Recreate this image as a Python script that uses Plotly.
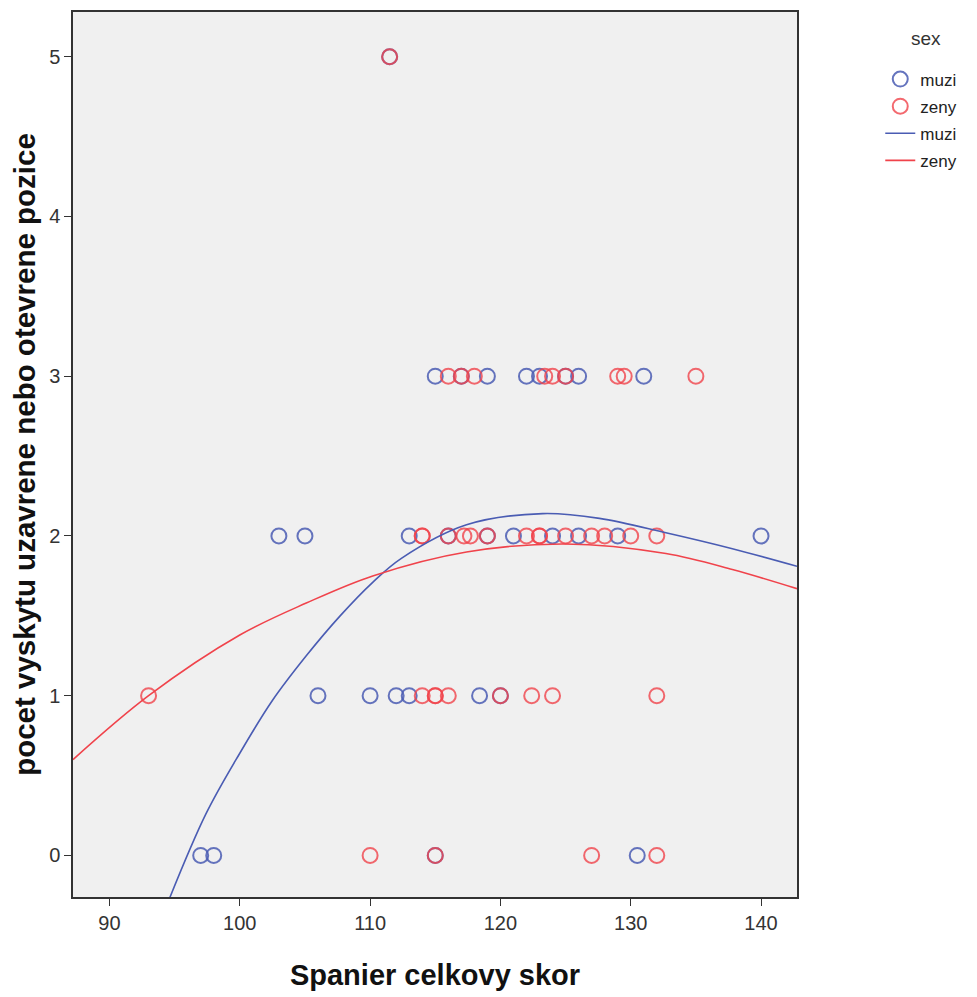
import plotly.graph_objects as go

# ---- data ----
muzi_x = [115, 117, 119, 122, 123, 125, 126, 131,
          103, 105, 113, 116, 119, 121, 124, 126, 129, 140,
          106, 110, 112, 113, 118.4, 120,
          97, 98, 115, 130.5,
          111.5]
muzi_y = [3, 3, 3, 3, 3, 3, 3, 3,
          2, 2, 2, 2, 2, 2, 2, 2, 2, 2,
          1, 1, 1, 1, 1, 1,
          0, 0, 0, 0,
          5]

zeny_x = [116, 117, 118, 123.4, 124, 125, 129, 129.5, 135,
          114, 114, 116, 117.2, 117.7, 119, 122, 123, 123, 125, 127, 128, 130, 132,
          114, 115, 115, 116, 120, 122.4, 124, 132,
          93,
          110, 115, 127, 132,
          111.5]
zeny_y = [3, 3, 3, 3, 3, 3, 3, 3, 3,
          2, 2, 2, 2, 2, 2, 2, 2, 2, 2, 2, 2, 2, 2,
          1, 1, 1, 1, 1, 1, 1, 1,
          1,
          0, 0, 0, 0,
          5]

# fitted curves
muzi_fit_x = [94.6, 97.4, 100, 102.5, 105.1, 107.7, 110.2, 112.4, 117.4, 123.25, 127.6, 132.7, 137.8, 142.76]
muzi_fit_y = [-0.27, 0.26, 0.64, 0.97, 1.25, 1.50, 1.71, 1.86, 2.07, 2.14, 2.11, 2.02, 1.92, 1.81]
zeny_fit_x = [87.2, 93, 100, 105.1, 110.2, 117.4, 125, 132.7, 137.8, 142.76]
zeny_fit_y = [0.60, 1.0, 1.38, 1.58, 1.75, 1.90, 1.95, 1.89, 1.79, 1.67]

x_ticks = [90, 100, 110, 120, 130, 140]
y_ticks = [0, 1, 2, 3, 4, 5]

BLUE = "#4a5cb3"
RED = "#f0434b"
FONT = "Liberation Sans, Arial, sans-serif"

fig = go.Figure()
fig.add_trace(go.Scatter(x=muzi_x, y=muzi_y, mode="markers", name="muzi", legendgroup="a",
                         marker=dict(symbol="circle-open", size=15, color=BLUE,
                                     line=dict(width=2, color=BLUE), opacity=0.85)))
fig.add_trace(go.Scatter(x=zeny_x, y=zeny_y, mode="markers", name="zeny", legendgroup="b",
                         marker=dict(symbol="circle-open", size=15, color=RED,
                                     line=dict(width=2, color=RED), opacity=0.8)))
fig.add_trace(go.Scatter(x=muzi_fit_x, y=muzi_fit_y, mode="lines", name="muzi", legendgroup="c",
                         line=dict(color=BLUE, width=1.6, shape="spline", smoothing=1.0)))
fig.add_trace(go.Scatter(x=zeny_fit_x, y=zeny_fit_y, mode="lines", name="zeny", legendgroup="d",
                         line=dict(color=RED, width=1.6, shape="spline", smoothing=1.0)))

fig.add_annotation(text="sex", xref="paper", yref="paper", x=1.178, y=0.97,
                   xanchor="center", yanchor="middle", showarrow=False,
                   font=dict(size=19, color="#333", family=FONT))

fig.update_layout(
    width=977, height=997,
    margin=dict(l=73, r=180, t=10, b=100),
    paper_bgcolor="white",
    plot_bgcolor="#f0f0f0",
    font=dict(family=FONT, size=16, color="#222"),
    legend=dict(x=1.115, y=0.944, xanchor="left", yanchor="top",
                font=dict(size=17, color="#222"), tracegroupgap=2, itemwidth=30,
                bgcolor="rgba(0,0,0,0)"),
    xaxis=dict(range=[87.2, 142.76], tickvals=x_ticks, ticks="outside", ticklen=7,
               tickcolor="#333", showgrid=False, zeroline=False, showline=True,
               linecolor="#333", linewidth=1.5, mirror=True,
               tickfont=dict(size=20, color="#333"),
               title=dict(text="<b>Spanier celkovy skor</b>", font=dict(size=29, color="#111"), standoff=32)),
    yaxis=dict(range=[-0.26, 5.28], tickvals=y_ticks, ticks="outside", ticklen=7,
               tickcolor="#333", showgrid=False, zeroline=False, showline=True,
               linecolor="#333", linewidth=1.5, mirror=True,
               tickfont=dict(size=20, color="#333"),
               title=dict(text="<b>pocet vyskytu uzavrene nebo otevrene pozice</b>",
                          font=dict(size=29.5, color="#111"), standoff=5)),
)

fig.write_html("out.html", post_script="document.body.style.margin='0';",
               config={"displayModeBar": False})
